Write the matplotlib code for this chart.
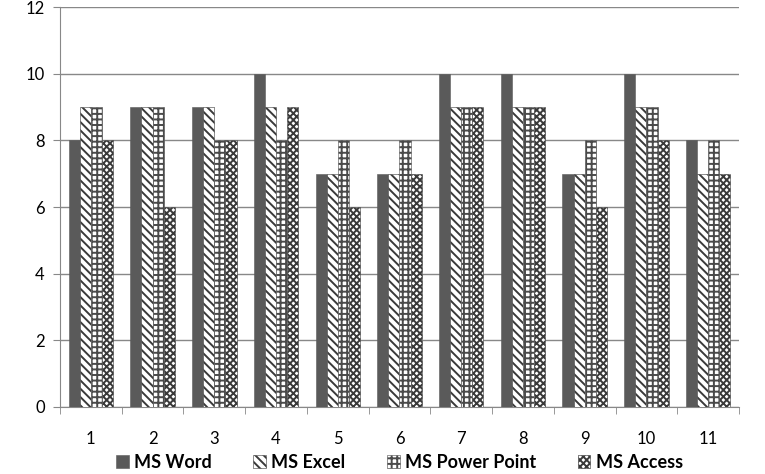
import numpy as np
import matplotlib
matplotlib.use("Agg")
import matplotlib.pyplot as plt

# data
categories = ["1", "2", "3", "4", "5", "6", "7", "8", "9", "10", "11"]
ms_word = [8, 9, 9, 10, 7, 7, 10, 10, 7, 10, 8]
ms_excel = [9, 9, 9, 9, 7, 7, 9, 9, 7, 9, 7]
ms_power_point = [9, 9, 8, 8, 8, 8, 9, 9, 8, 9, 8]
ms_access = [8, 6, 8, 9, 6, 7, 9, 9, 6, 8, 7]
series_names = ["MS Word", "MS Excel", "MS Power Point", "MS Access"]

plt.rcParams["font.family"] = ["Lato", "DejaVu Sans"]
plt.rcParams["hatch.linewidth"] = 1.4

fig = plt.figure(figsize=(7.65, 4.74), dpi=100)
ax = fig.add_axes([0.0784, 0.1414, 0.8876, 0.8436])

x = np.arange(len(categories))
w = 0.18
series = [ms_word, ms_excel, ms_power_point, ms_access]
styles = [
    dict(color="#5a5a5a", hatch=None, edgecolor="#5a5a5a"),
    dict(color="white", hatch="\\\\\\\\", edgecolor="#3a3a3a"),
    dict(color="white", hatch="+++", edgecolor="#4a4a4a"),
    dict(color="white", hatch="xxxxx", edgecolor="#3a3a3a"),
]
for i, (vals, st) in enumerate(zip(series, styles)):
    ax.bar(x + (i - 1.5) * w, vals, w, label=series_names[i],
           color=st["color"], hatch=st["hatch"], edgecolor=st["edgecolor"],
           linewidth=0.4, zorder=3)

ax.set_xlim(-0.5, len(categories) - 0.5)
ax.set_ylim(0, 12)
ax.set_yticks(range(0, 13, 2))
ax.set_xticks(x)
ax.set_xticklabels(categories)
ax.set_xticks(np.arange(-0.5, len(categories), 1), minor=True)
ax.tick_params(axis="x", which="major", length=0, pad=17, labelsize=12)
ax.tick_params(axis="x", which="minor", length=5, color="#888888", direction="out")
ax.tick_params(axis="y", length=5, color="#888888", labelsize=12, pad=6)

ax.yaxis.grid(True, color="#888888", linewidth=1.0, zorder=0)
for side in ["top", "right"]:
    ax.spines[side].set_visible(False)
for side in ["left", "bottom"]:
    ax.spines[side].set_color("#888888")

leg = ax.legend(loc="upper center", bbox_to_anchor=(0.5, -0.076), ncol=4,
                frameon=False, prop={"weight": "bold", "size": 13},
                handlelength=0.7, handleheight=0.7, handletextpad=0.3,
                columnspacing=2.3)

fig.savefig("out.png", dpi=100)
